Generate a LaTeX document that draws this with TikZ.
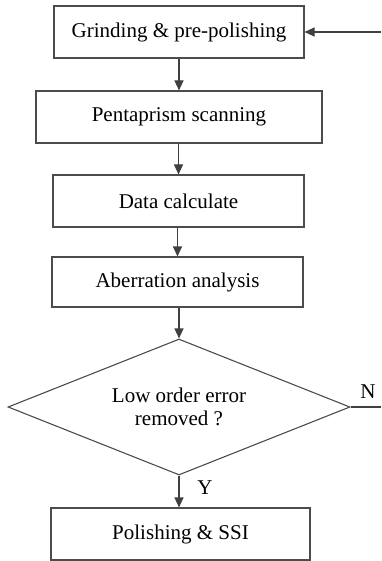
\documentclass[tikz,border=0pt]{standalone}
\usepackage{fontspec}
\setmainfont{Liberation Serif}
\usetikzlibrary{shapes.geometric,arrows.meta}
\begin{document}
\begin{tikzpicture}[x=1pt,y=-1pt,
  every node/.style={font=\fontsize{21}{25}\selectfont},
  stepbox/.style={draw=black!70,line width=1.1pt,rectangle,inner sep=0pt},
  decision/.style={draw=black!70,line width=1.1pt,diamond,aspect=2.5,inner sep=0pt,
    minimum width=342pt,minimum height=136pt,align=center},
  flow/.style={draw=black!75,line width=1.1pt,-{Triangle[length=10pt,width=9pt]}},
  plain/.style={draw=black!75,line width=1.1pt}]
\useasboundingbox (0,0) rectangle (381,561);
% process steps
\node[stepbox,minimum width=250pt,minimum height=52pt] (b1) at (179,32) {Grinding \& pre-polishing};
\node[stepbox,minimum width=286pt,minimum height=52pt] (b2) at (179,117) {Pentaprism scanning};
\node[stepbox,minimum width=251pt,minimum height=52pt] (b3) at (178.5,201) {Data calculate};
\node[stepbox,minimum width=251pt,minimum height=50pt] (b4) at (177.5,282) {Aberration analysis};
\node[decision] (d) at (179,407) {Low order error\\[-2pt]removed ?};
\node[stepbox,minimum width=259pt,minimum height=52pt] (b5) at (180.5,534) {Polishing \& SSI};
% loose ends of the feedback loop
\coordinate (back) at (381,32);
\coordinate (nend) at (381,407);
\node (nlab) at (368,392) {N};
\node (ylab) at (205,488) {Y};
% connectors
\draw[flow] (back) -- (b1.east);
\draw[flow] (b1.south) -- (b1.south |- b2.north);
\draw[flow] (b3.north |- b2.south) -- (b3.north);
\draw[flow] (b4.north |- b3.south) -- (b4.north);
\draw[flow] (d.north |- b4.south) -- (d.north);
\draw[flow] (d.south) -- (d.south |- b5.north);
\draw[plain] (d.east) -- (nend);
\end{tikzpicture}
\end{document}
